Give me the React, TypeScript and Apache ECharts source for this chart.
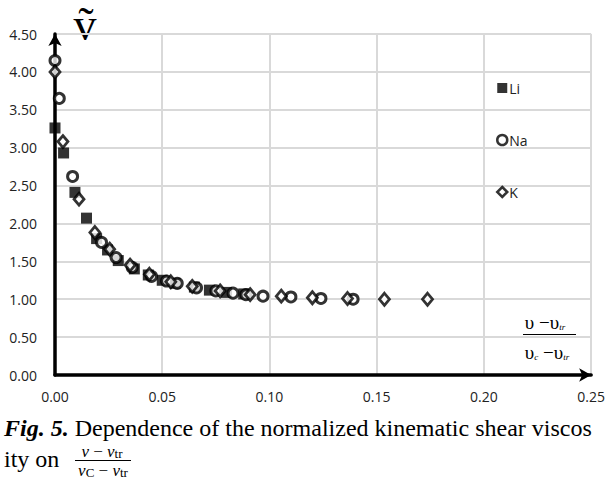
import React, { useEffect, useRef } from "react";
import * as echarts from "echarts";

const xTickLabels = ["0.00", "0.05", "0.10", "0.15", "0.20", "0.25"];
const yTickLabels = ["0.00", "0.50", "1.00", "1.50", "2.00", "2.50", "3.00", "3.50", "4.00", "4.50"];

const seriesNames = ["Li", "Na", "K"];

const liX = [0.0, 0.004, 0.0093, 0.0147, 0.0194, 0.0245, 0.0295, 0.037, 0.0435, 0.05, 0.056, 0.065, 0.072, 0.08, 0.088];
const liY = [3.26, 2.93, 2.41, 2.07, 1.8, 1.65, 1.51, 1.4, 1.32, 1.25, 1.21, 1.16, 1.12, 1.09, 1.07];

const naX = [0.0, 0.002, 0.0082, 0.0217, 0.0285, 0.036, 0.045, 0.052, 0.057, 0.066, 0.075, 0.083, 0.089, 0.097, 0.11, 0.124, 0.139];
const naY = [4.15, 3.65, 2.62, 1.75, 1.55, 1.42, 1.3, 1.24, 1.21, 1.15, 1.11, 1.08, 1.06, 1.04, 1.03, 1.01, 1.0];

const kX = [0.0, 0.0037, 0.0112, 0.0186, 0.0255, 0.035, 0.044, 0.054, 0.064, 0.077, 0.091, 0.1055, 0.12, 0.1364, 0.1536, 0.1737];
const kY = [4.0, 3.08, 2.32, 1.88, 1.66, 1.45, 1.33, 1.23, 1.17, 1.11, 1.06, 1.04, 1.02, 1.01, 1.0, 1.0];

const pairs = (xs: number[], ys: number[]) => xs.map((x, i) => [x, ys[i]]);

export default function App() {
  const ref = useRef<HTMLDivElement>(null);
  useEffect(() => {
    const chart = echarts.init(ref.current!, null, { renderer: "svg" });
    const labelFont = { fontFamily: "Open Sans", fontSize: 14, color: "#222" };
    const serif = "Liberation Serif";
    const fracRich = {
      n: { fontFamily: serif, fontSize: 19, fill: "#000" },
      s: { fontFamily: serif, fontSize: 9, fontStyle: "italic", fill: "#000", verticalAlign: "bottom" },
    };
    const capRich = {
      i: { fontFamily: serif, fontSize: 17, fontStyle: "italic", fill: "#000" },
      o: { fontFamily: serif, fontSize: 17, fill: "#000" },
      s: { fontFamily: serif, fontSize: 13, fill: "#000", verticalAlign: "bottom" },
    };
    const naStyle = { color: "#fff", borderColor: "#000", borderWidth: 3 };
    const kStyle = { color: "#fff", borderColor: "#000", borderWidth: 2.8 };
    chart.setOption({
      animation: false,
      grid: { left: 55, right: 16, top: 34, bottom: 106 },
      xAxis: {
        type: "value",
        min: 0,
        max: 0.25,
        interval: 0.05,
        axisLine: {
          show: true,
          onZero: false,
          symbol: ["none", "arrow"],
          symbolSize: [10, 12],
          lineStyle: { color: "#000", width: 3.5 },
        },
        axisTick: { show: false },
        splitLine: { show: true, lineStyle: { color: "#d9d9d9", width: 2 } },
        axisLabel: {
          ...labelFont,
          margin: 14,
          formatter: (v: number) => xTickLabels[Math.round(v / 0.05)] ?? v.toFixed(2),
        },
      },
      yAxis: {
        type: "value",
        min: 0,
        max: 4.5,
        interval: 0.5,
        axisLine: {
          show: true,
          onZero: false,
          symbol: ["none", "arrow"],
          symbolSize: [10, 12],
          lineStyle: { color: "#000", width: 3.5 },
        },
        axisTick: { show: false },
        splitLine: { show: true, lineStyle: { color: "#d9d9d9", width: 2 } },
        axisLabel: {
          ...labelFont,
          margin: 18,
          formatter: (v: number) => yTickLabels[Math.round(v / 0.5)] ?? v.toFixed(2),
        },
      },
      legend: {
        orient: "vertical",
        left: 491,
        top: 76,
        itemGap: 38,
        itemWidth: 10,
        itemHeight: 10,
        textStyle: { fontFamily: "Open Sans", fontSize: 14, color: "#222", padding: [0, 0, 0, -3] },
        data: [
          { name: seriesNames[0] },
          { name: seriesNames[1], itemStyle: { ...naStyle, borderWidth: 2.5 } },
          { name: seriesNames[2], itemStyle: { ...kStyle, borderWidth: 2.5 } },
        ],
      },
      series: [
        {
          name: seriesNames[0],
          type: "scatter",
          symbol: "rect",
          symbolSize: 11,
          itemStyle: { color: "#000" },
          data: pairs(liX, liY),
        },
        {
          name: seriesNames[1],
          type: "scatter",
          symbol: "circle",
          symbolSize: 10,
          itemStyle: naStyle,
          data: pairs(naX, naY),
        },
        {
          name: seriesNames[2],
          type: "scatter",
          symbol: "diamond",
          symbolSize: [10, 12],
          itemStyle: kStyle,
          data: pairs(kX, kY),
        },
      ],
      graphic: [
        {
          type: "text",
          x: 85,
          y: 24,
          style: {
            text: "ṽ",
            font: `46px "${serif}"`,
            fill: "#000",
            align: "center",
            verticalAlign: "middle",
          },
        },
        {
          type: "text",
          x: 545,
          y: 322,
          style: { text: "{n|υ −υ}{s|tr}", align: "center", verticalAlign: "middle", fill: "#000", rich: fracRich },
        },
        {
          type: "line",
          shape: { x1: 523, y1: 334.5, x2: 576, y2: 334.5 },
          style: { stroke: "#000", lineWidth: 1.2 },
        },
        {
          type: "text",
          x: 547,
          y: 352,
          style: { text: "{n|υ}{s|c}{n| −υ}{s|tr}", align: "center", verticalAlign: "middle", fill: "#000", rich: fracRich },
        },
        {
          type: "text",
          x: 4,
          y: 428,
          style: {
            text: "{b|Fig. 5.} Dependence of the normalized kinematic shear viscos",
            font: `24px "${serif}"`,
            fill: "#000",
            verticalAlign: "middle",
            rich: {
              b: { fontFamily: serif, fontSize: 24, fontWeight: "bold", fontStyle: "italic", fill: "#000" },
            },
          },
        },
        {
          type: "text",
          x: 4,
          y: 459,
          style: { text: "ity on", font: `24px "${serif}"`, fill: "#000", verticalAlign: "middle" },
        },
        {
          type: "text",
          x: 102,
          y: 451,
          style: { text: "{i|v}{o| − }{i|v}{s|tr}", align: "center", verticalAlign: "middle", fill: "#000", rich: capRich },
        },
        {
          type: "line",
          shape: { x1: 75, y1: 460.5, x2: 131, y2: 460.5 },
          style: { stroke: "#000", lineWidth: 1 },
        },
        {
          type: "text",
          x: 103,
          y: 470,
          style: { text: "{i|v}{s|C}{o| − }{i|v}{s|tr}", align: "center", verticalAlign: "middle", fill: "#000", rich: capRich },
        },
      ],
    });
    return () => chart.dispose();
  }, []);
  return (
    <div
      ref={ref}
      style={{ position: "absolute", left: 0, top: 0, width: 608, height: 481, background: "#fff" }}
    />
  );
}
